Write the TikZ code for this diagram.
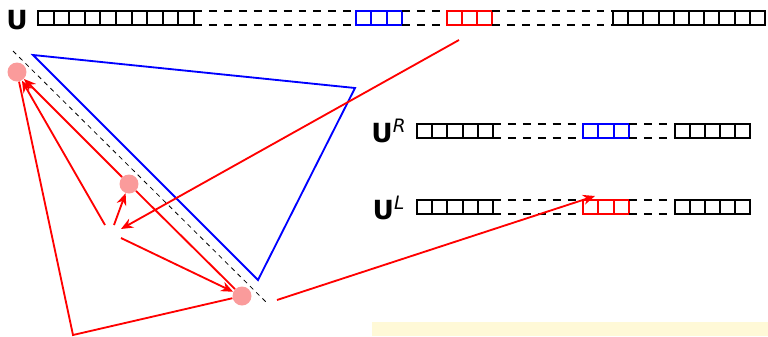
\documentclass[tikz,border=0pt]{standalone}
\usepackage{fontspec}
\setmainfont{DejaVu Sans}
\usepackage{tikz}
\usetikzlibrary{arrows.meta,positioning,calc}

\definecolor{dotpink}{RGB}{250,155,155}
\definecolor{notebg}{RGB}{255,249,215}

\begin{document}
\begin{tikzpicture}[
  x=0.02cm, y=-0.02cm,
  font=\fontsize{15}{17}\selectfont,
  cellrow/.style={line width=1.05pt},
  gapline/.style={line width=1.05pt, dash pattern={on 4.5pt off 4pt}},
  lbl/.style={font=\fontsize{15}{17}\selectfont\bfseries, inner sep=0pt},
  dot/.style={circle, fill=dotpink, minimum size=0.38cm, inner sep=0pt},
  tri/.style={blue, line width=1.05pt, line join=miter},
  diag/.style={line width=0.45pt, dash pattern={on 2.6pt off 2.4pt}},
  link/.style={red, line width=1.05pt},
  arrowlink/.style={link, -{Stealth[length=2.4mm,width=2mm]}}
]
\useasboundingbox (0,0) rectangle (768,336);

% top array U
\node[lbl] (u) at (17,20) {U};
\foreach \i in {0,...,9} \draw[cellrow] ({38+15.6*\i},11) rectangle ++(15.6,14);
\draw[gapline] (194,11) -- (356,11) (194,25) -- (356,25);
\foreach \i in {0,1,2} \draw[cellrow,blue] ({356+15.33*\i},11) rectangle ++(15.33,14);
\draw[gapline] (402,11) -- (447,11) (402,25) -- (447,25);
\foreach \i in {0,1,2} \draw[cellrow,red] ({447+15*\i},11) rectangle ++(15,14);
\draw[gapline] (492,11) -- (613,11) (492,25) -- (613,25);
\foreach \i in {0,...,9} \draw[cellrow] ({613+15.2*\i},11) rectangle ++(15.2,14);

% U^R
\node[lbl] (ur) at (389,131) {U\textsuperscript{\mdseries\itshape R}};
\foreach \i in {0,...,4} \draw[cellrow] ({417+15.2*\i},124) rectangle ++(15.2,14);
\draw[gapline] (493,124) -- (583,124) (493,138) -- (583,138);
\foreach \i in {0,1,2} \draw[cellrow,blue] ({583+15.33*\i},124) rectangle ++(15.33,14);
\draw[gapline] (629,124) -- (675,124) (629,138) -- (675,138);
\foreach \i in {0,...,4} \draw[cellrow] ({675+15*\i},124) rectangle ++(15,14);

% U^L
\node[lbl] (ul) at (389,208) {U\textsuperscript{\mdseries\itshape L}};
\foreach \i in {0,...,4} \draw[cellrow] ({417+15.2*\i},200) rectangle ++(15.2,14);
\draw[gapline] (493,200) -- (583,200) (493,214) -- (583,214);
\foreach \i in {0,1,2} \draw[cellrow,red] ({583+15.33*\i},200) rectangle ++(15.33,14);
\draw[gapline] (629,200) -- (675,200) (629,214) -- (675,214);
\foreach \i in {0,...,4} \draw[cellrow] ({675+15*\i},200) rectangle ++(15,14);

% left picture
\draw[tri] (33,55) -- (355,88) -- (258,280) -- cycle;
\draw[diag] (13,51) -- (267,303);

\node[dot] (p1) at (17,72) {};
\node[dot] (p2) at (129,184) {};
\node[dot] (p3) at (242,296) {};

\coordinate (s1) at (105,225);
\coordinate (s2) at (114,225);
\coordinate (s3) at (121,238);
\coordinate (s4) at (121,229);
\coordinate (low) at (73,335);
\coordinate (topred) at (459,40);
\coordinate (tail) at (277,300);
\coordinate (redL) at (595,196);

\draw[arrowlink] (p2) -- (p1);
\draw[arrowlink] (s1) -- (p1);
\draw[arrowlink] (s2) -- (p2);
\draw[arrowlink] (s3) -- (p3);
\draw[link] (p2) -- (p3);
\draw[link] (p1) -- (low) -- (p3);
\draw[arrowlink] (topred) -- (s4);
\draw[arrowlink] (tail) -- (redL);

\fill[notebg] (372,322) rectangle (768,336);
\end{tikzpicture}
\end{document}
